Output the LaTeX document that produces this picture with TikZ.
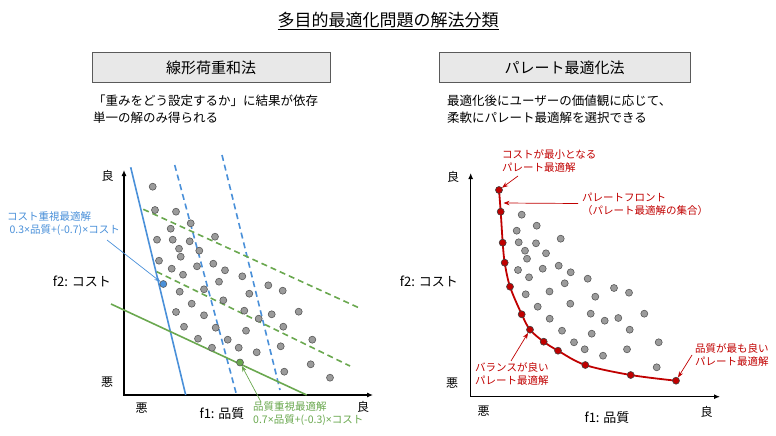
\documentclass[tikz,border=0pt]{standalone}
\usepackage{fontspec}
\setmainfont{Noto Sans CJK JP}
\newfontfamily\latinfont{Noto Sans}
\newcommand{\tms}{{\latinfont ×}}
\usetikzlibrary{arrows.meta,positioning}
\definecolor{wsblue}{HTML}{4A90D9}
\definecolor{wsgreen}{HTML}{6AA84F}
\definecolor{pfred}{HTML}{C00000}
\definecolor{dotgray}{HTML}{9B9B9B}
\definecolor{boxgray}{HTML}{E8E8E8}
\definecolor{edgegray}{HTML}{5A5A5A}

\begin{document}
\begin{tikzpicture}[x=1pt,y=-1pt,
  dot/.style={circle,draw=black!65,fill=dotgray,line width=0.6pt,inner sep=0pt,minimum size=7pt},
  front/.style={dot,fill=pfred,draw=black!75},
  header/.style={draw=edgegray,fill=boxgray,line width=1pt,
    minimum height=29pt,font=\fontsize{15}{18}\selectfont},
  desc/.style={anchor=north west,align=left,inner sep=0pt,font=\fontsize{12.5}{17}\selectfont},
  axes/.style={{Latex[length=6pt,width=5pt]}-{Latex[length=6pt,width=5pt]},line width=1.1pt},
  axlab/.style={font=\fontsize{12}{14}\selectfont,inner sep=1pt},
  note/.style={anchor=north west,align=left,inner sep=0pt,font=\fontsize{10.5}{13}\selectfont},
  weight/.style={line width=1.6pt},
  trial/.style={weight,dash pattern=on 6pt off 4pt},
  pointer/.style={-{Stealth[length=6pt,width=4.5pt]},line width=0.7pt}]
\useasboundingbox (0,0) rectangle (776,436);

% title and headers
\node[font=\fontsize{17}{20}\selectfont] (title) at (388,21) {\underline{多目的最適化問題の解法分類}};
\node[header,minimum width=238pt] (lhead) at (211,67.5) {線形荷重和法};
\node[header,minimum width=251pt] (rhead) at (564.5,67.5) {パレート最適化法};
\node[desc] (ldesc) at (93,95) {「重みをどう設定するか」に結果が依存\\単一の解のみ得られる};
\node[desc] (rdesc) at (447,95) {最適化後にユーザーの価値観に応じて、\\柔軟にパレート最適解を選択できる};

% left: weighted sum
\coordinate (ly) at (124,170);
\coordinate (lx) at (373,395);
\draw[axes] (ly) |- (lx);
\node[axlab] (lgood) at (107.5,176) {良};
\node[axlab] (lbad) at (107,382) {悪};
\node[axlab] (lbadx) at (141.5,408) {悪};
\node[axlab] (lgoodx) at (363,407) {良};
\node[axlab,font=\fontsize{13}{15}\selectfont] (lf1) at (222,414) {f1: 品質};
\node[axlab,font=\fontsize{13}{15}\selectfont,anchor=east] (lf2) at (112,281) {f2: コスト};

\draw[weight,wsblue] (130.7,167.3) -- (185.7,395);
\draw[trial,wsblue] (174.7,165) -- (236,392.7);
\draw[trial,wsblue] (222,155) -- (280,390);
\draw[weight,wsgreen] (111,304) -- (306.7,395);
\draw[trial,wsgreen] (143.3,209.3) -- (360,308.3);
\draw[trial,wsgreen] (156.7,271.7) -- (350,366);

\foreach \x/\y [count=\i] in {152.7/186.7,155/210,176/211.7,190.7/223.3,170.7/228.7,
  215/236.7,157/239.7,172.7/239.7,189.7/241.3,179/248.7,199.3/250.7,180.7/256.7,
  159/260.7,213.3/263.7,197/266.3,171.7/268.7,225/270.3,183/274.7,242.3/276.3,
  219/281.7,268.3/285.3,282.7/290.7,179.7/291.7,204/289.3,249.3/293.7,223.3/300.3,
  191.7/303.7,244.3/310.7,176/312,204/315.3,271.7/314.3,258.7/318.7,298.7/311.7,
  283.3/326.7,184/326.7,215.7/327.7,246/330.7,198/338.7,227.7/339.7,312.3/339.7,
  280.7/346.3,212/347.7,238.7/347.7,256.7/352.3,310.7/364.3,284.3/371.7,330/377.7}
  \node[dot] (a\i) at (\x,\y) {};
\node[dot,fill=wsblue] (costopt) at (163.3,284) {};
\node[dot,fill=wsgreen] (qualopt) at (240,362.5) {};

\node[note,text=wsblue] (costlab) at (7,211) {コスト重視最適解\\\ 0.3\tms 品質+(-0.7)\tms コスト};
\coordinate (costtail) at (107,240);
\draw[pointer,wsblue] (costtail) -- (costopt);
\node[note,text=wsgreen] (quallab) at (253,401) {品質重視最適解\\0.7\tms 品質+(-0.3)\tms コスト};
\coordinate (qualtail) at (261,402);
\draw[pointer,wsgreen] (qualtail) -- (qualopt);

% right: pareto
\coordinate (ry) at (470.7,173);
\coordinate (rx) at (720,396.7);
\draw[axes] (ry) |- (rx);
\node[axlab] (rgood) at (453,177) {良};
\node[axlab] (rbad) at (452,383) {悪};
\node[axlab] (rbadx) at (483.5,411.5) {悪};
\node[axlab] (rgoodx) at (706.7,411.5) {良};
\node[axlab,font=\fontsize{13}{15}\selectfont] (rf1) at (607,418) {f1: 品質};
\node[axlab,font=\fontsize{13}{15}\selectfont,anchor=east] (rf2) at (459,281) {f2: コスト};

\foreach \x/\y [count=\i] in {521.7/214.7,536.7/225.7,516.7/230.7,560.7/238.7,518.7/242.3,
  536/243.3,525/250.7,546/253.3,527/258.7,558.7/265.7,542.7/268.7,518/270,570.7/272.3,
  529/277.3,587.7/278.7,564.7/283.3,614/288,549.5/291.5,525.7/294.3,595.3/296.7,
  629/292.7,537.7/306.7,570.3/303.7,644.3/313.7,590.7/313.7,618.3/318,604.7/320.7,
  549.7/318.7,629.7/329.7,562/330.7,591.7/333.7,658.7/342.3,574/342.3,584.7/349.3,
  627/349.3,603/355.7,656.7/367.3}
  \node[dot] (b\i) at (\x,\y) {};
\foreach \x/\y [count=\i] in {499/190,500.7/211.7,502.7/242.7,504.7/262.7,510/286.7,
  521.7/314.3,530/329.7,543.7/341.7,558/350.7,585.3/365,630.7/375,676/380.7}
  \coordinate (q\i) at (\x,\y);
\draw[pfred,line width=1.8pt] plot[smooth,tension=0.55] coordinates {(q1) (q2) (q3) (q4) (q5)
  (q6) (q7) (q8) (q9) (q10) (q11) (q12)};
\foreach \i in {1,...,12}
  \node[front] (p\i) at (q\i) {};

\node[note,text=pfred] (minlab) at (502,149) {コストが最小となる\\パレート最適解};
\coordinate (mintail) at (518,176);
\draw[pointer,pfred] (mintail) -- (p1);
\node[note,text=pfred] (frontlab) at (582,193) {パレートフロント\\（パレート最適解の集合）};
\coordinate (fronttail) at (578,203.5);
\coordinate (fronttip) at (503.5,203);
\draw[pointer,pfred] (fronttail) -- (fronttip);
\node[note,text=pfred] (ballab) at (475,362) {バランスが良い\\パレート最適解};
\coordinate (baltail) at (511,361);
\draw[pointer,pfred] (baltail) -- (p7);
\node[note,text=pfred] (bestlab) at (695,343) {品質が最も良い\\パレート最適解};
\coordinate (besttail) at (692,355);
\draw[pointer,pfred] (besttail) -- (p12);
\end{tikzpicture}
\end{document}
